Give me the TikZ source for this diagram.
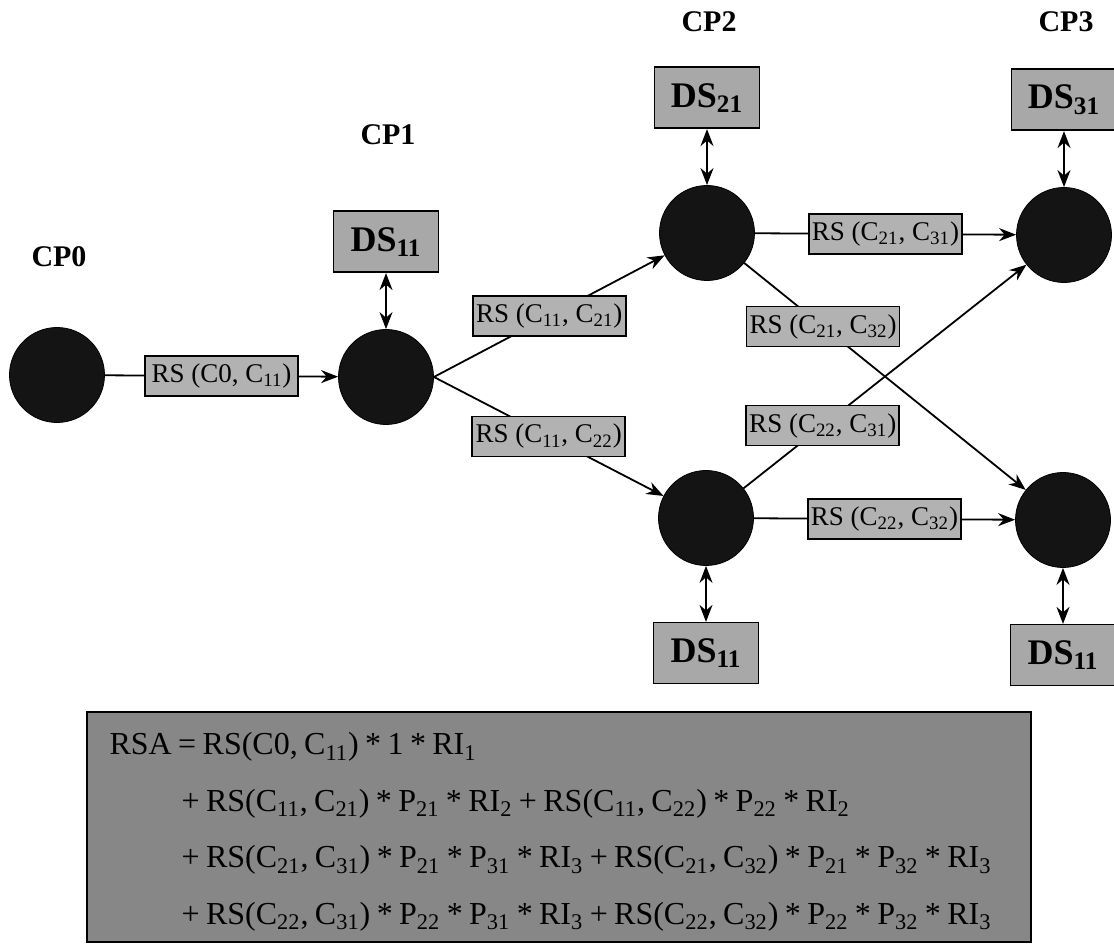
\documentclass[tikz,border=0pt]{standalone}
\usepackage{fontspec}
\setmainfont{Liberation Serif}
\usepackage{xcolor}
\usepackage{tikz}
\usetikzlibrary{arrows.meta,positioning}
\definecolor{nodeblack}{HTML}{141414}
\definecolor{lblgray}{HTML}{B2B2B2}
\definecolor{dsgray}{HTML}{A8A8A8}
\definecolor{rsagray}{HTML}{878787}
\newcommand{\ix}[1]{\textsubscript{#1}}
\newcommand{\tightsp}{\spaceskip=0.2em plus 0.04em\relax}

\begin{document}
\begin{tikzpicture}[
  x=0.5pt,y=-0.5pt,
  node distance=28pt,
  state/.style={circle,draw=black,fill=nodeblack,minimum size=47.5pt,inner sep=0pt},
  store/.style={draw=black,line width=0.8pt,fill=dsgray,minimum width=52.5pt,
                minimum height=30.5pt,inner sep=0pt,font=\fontsize{18}{20}\selectfont\bfseries},
  rs/.style={draw=black,line width=0.8pt,fill=lblgray,minimum width=76.5pt,
             minimum height=20pt,inner sep=1pt,font=\fontsize{13.5}{15}\selectfont},
  cp/.style={font=\fontsize{15}{17}\selectfont\bfseries},
  arr/.style={-{Stealth[length=8.5pt,width=6.5pt]},line width=0.9pt},
  darr/.style={{Stealth[length=8.5pt,width=6.5pt]}-{Stealth[length=8.5pt,width=6.5pt]},line width=0.9pt}
]
  \useasboundingbox (0,0) rectangle (1114,945);
  \node[state] (c0) at (57,375) {};
  \node[state] (c11) at (386,377) {};
  \node[state] (c21) at (707,233) {};
  \node[state] (c22) at (706,518) {};
  \node[state] (c31) at (1064,235) {};
  \node[state] (c32) at (1063,520) {};
  \node[store,above=of c11] (ds11) {DS\ix{11}};
  \node[store,above=of c21] (ds21) {DS\ix{21}};
  \node[store,above=of c31] (ds31) {DS\ix{31}};
  \node[store,below=of c22] (ds22) {DS\ix{11}};
  \node[store,below=of c32] (ds32) {DS\ix{11}};
  \node[cp] (cp0) at (59,257) {CP0};
  \node[cp] (cp1) at (388,135) {CP1};
  \node[cp] (cp2) at (709,22) {CP2};
  \node[cp] (cp3) at (1066,22) {CP3};
  \draw[arr] (c0) -- node[rs]{RS (C0, C\ix{11})} (c11);
  \draw[arr] (c11.east) -- node[rs]{RS (C\ix{11}, C\ix{21})} (c21);
  \draw[arr] (c11.east) -- node[rs]{RS (C\ix{11}, C\ix{22})} (c22);
  \draw[arr] (c21) -- node[rs]{RS (C\ix{21}, C\ix{31})} (c31);
  \draw[arr] (c22) -- node[rs]{RS (C\ix{22}, C\ix{32})} (c32);
  \draw[arr] (c21) -- node[rs,pos=0.28]{RS (C\ix{21}, C\ix{32})} (c32);
  \draw[arr] (c22) -- node[rs,pos=0.28]{RS (C\ix{22}, C\ix{31})} (c31);
  \foreach \a/\b in {ds11/c11,ds21/c21,ds31/c31,ds22/c22,ds32/c32}
    \draw[darr] (\a)--(\b);
  \node[draw=black,line width=0.8pt,fill=rsagray,minimum width=472pt,
        minimum height=115pt,inner sep=0pt] (rsabox) at (559,827) {};
  \node[anchor=west,align=left,inner sep=0pt,font=\fontsize{16}{28.25}\selectfont]
    (rsa) at ([xshift=11.5pt,yshift=-2.5pt]rsabox.west) {\tightsp RSA = RS(C0, C\ix{11}) * 1 * RI\ix{1}\\
    \hspace*{36pt}\tightsp + RS(C\ix{11}, C\ix{21}) * P\ix{21} * RI\ix{2} + RS(C\ix{11}, C\ix{22}) * P\ix{22} * RI\ix{2}\\
    \hspace*{36pt}\tightsp + RS(C\ix{21}, C\ix{31}) * P\ix{21} * P\ix{31} * RI\ix{3} + RS(C\ix{21}, C\ix{32}) * P\ix{21} * P\ix{32} * RI\ix{3}\\
    \hspace*{36pt}\tightsp + RS(C\ix{22}, C\ix{31}) * P\ix{22} * P\ix{31} * RI\ix{3} + RS(C\ix{22}, C\ix{32}) * P\ix{22} * P\ix{32} * RI\ix{3}};
\end{tikzpicture}
\end{document}
